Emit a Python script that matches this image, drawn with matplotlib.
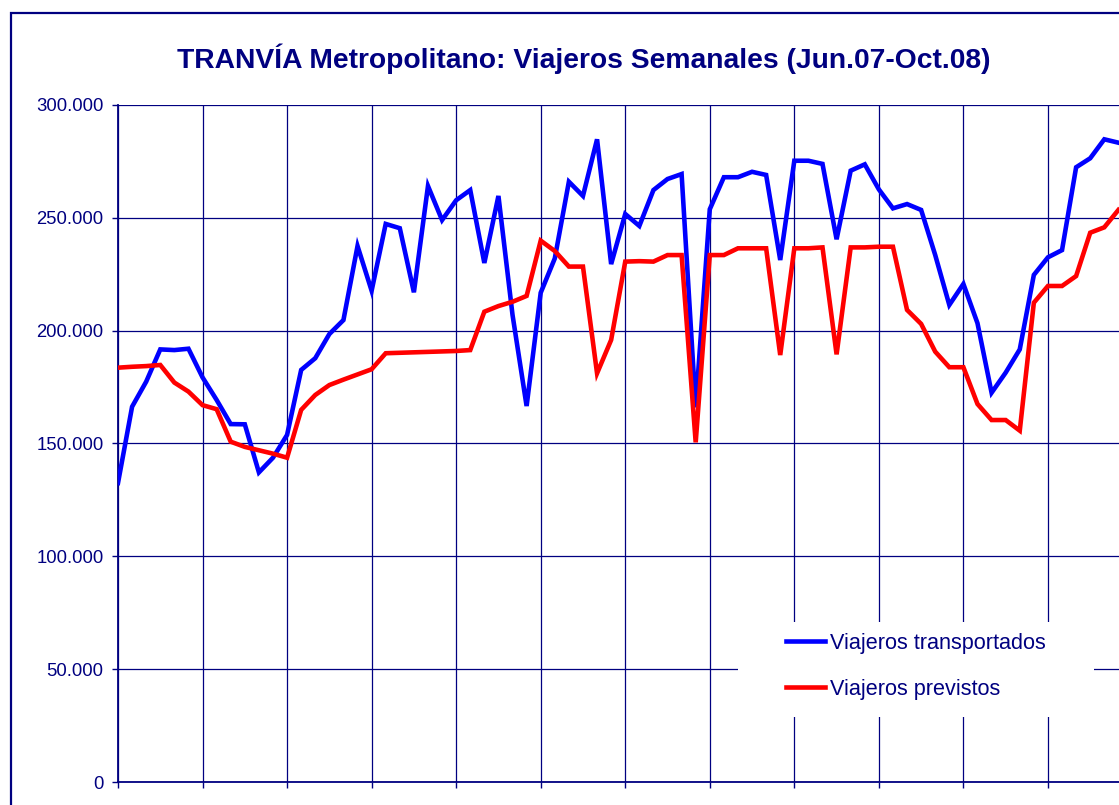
import numpy as np
import matplotlib
matplotlib.use("Agg")
import matplotlib.pyplot as plt
from matplotlib.patches import Rectangle

# weekly passengers, Jun.07 onwards (thousands)
semanas = np.arange(72)
transportados = [
    132.5, 166.3, 177.4, 191.7, 191.4, 192.0, 179.3, 169.3, 158.6, 158.5,
    137.2, 143.7, 153.8, 182.6, 187.8, 198.5, 204.7, 237.5, 217.7, 247.3,
    245.4, 217.0, 264.1, 249.0, 257.8, 262.3, 230.0, 259.7, 207.0, 166.6,
    216.8, 232.0, 266.0, 259.7, 284.8, 229.5, 251.7, 246.4, 262.3, 267.2,
    269.4, 166.0, 253.8, 268.0, 268.0, 270.4, 269.0, 231.3, 275.3, 275.3,
    273.9, 240.5, 270.9, 273.7, 262.6, 254.2, 256.1, 253.5, 233.5, 211.4,
    220.7, 203.3, 172.5, 181.4, 191.7, 224.7, 232.5, 235.7, 272.4, 276.4,
    284.8, 283.3,
]
previstos = [
    183.6, 184.0, 184.3, 184.8, 177.0, 173.0, 167.0, 165.2, 150.8, 148.5,
    147.0, 145.5, 143.7, 164.9, 171.5, 175.9, 178.3, 180.6, 182.9, 190.0,
    190.2, 190.4, 190.6, 190.8, 191.0, 191.4, 208.4, 210.9, 212.8, 215.4,
    239.9, 235.3, 228.4, 228.4, 181.1, 195.9, 230.6, 230.8, 230.6, 233.5,
    233.5, 150.5, 233.5, 233.5, 236.5, 236.5, 236.5, 189.2, 236.5, 236.5,
    236.9, 189.5, 236.9, 236.9, 237.2, 237.2, 209.2, 203.0, 190.7, 183.8,
    183.8, 167.5, 160.4, 160.4, 155.7, 212.4, 219.8, 219.8, 224.2, 243.4,
    245.8, 253.5,
]
titulo = "TRANVÍA Metropolitano: Viajeros Semanales (Jun.07-Oct.08)"
etiquetas = ["Viajeros transportados", "Viajeros previstos"]

NAVY = "#000080"
plt.rcParams["font.family"] = ["Liberation Sans", "DejaVu Sans"]

W, H = 1119, 805
fig = plt.figure(figsize=(W / 100, H / 100), dpi=100)

# outer chart frame (runs off the right and bottom edges)
fig.add_artist(Rectangle((11 / W, -0.2), 1.5, 1.2 - 13 / H, transform=fig.transFigure,
                         fill=False, ec=NAVY, lw=1.6))

paso = 14.09
ax = fig.add_axes([118 / W, 23 / H, 72 * paso / W, 677 / H])
ax.set_xlim(0, 72)
ax.set_ylim(0, 300000)

y_t = np.array(transportados) * 1000
y_p = np.array(previstos) * 1000
ax.plot(semanas, y_t, color="#0000FF", lw=3.3, solid_joinstyle="miter", zorder=3,
        label=etiquetas[0])
ax.plot(semanas, y_p, color="#FF0000", lw=3.3, solid_joinstyle="miter", zorder=3,
        label=etiquetas[1])

ax.set_yticks(np.arange(0, 300001, 50000))
ax.set_yticklabels([f"{v:,.0f}".replace(",", ".") for v in range(0, 300001, 50000)])
ax.set_xticks(np.arange(0, 73, 6))
ax.set_xticklabels([])
ax.tick_params(axis="y", colors=NAVY, labelcolor=NAVY, labelsize=13.3, length=4,
               width=1, pad=6.5, direction="out")
ax.tick_params(axis="x", colors=NAVY, length=4.5, width=1, direction="out")
ax.set_axisbelow(True)
ax.grid(True, color=NAVY, lw=0.9)

for s in ["top", "right"]:
    ax.spines[s].set_visible(False)
for s in ["left", "bottom"]:
    ax.spines[s].set_color(NAVY)
    ax.spines[s].set_linewidth(1.3)

# white patch behind the legend hides the grid there
ax.add_patch(Rectangle((738 / W, 1 - 717 / H), (1094 - 738) / W, 95 / H,
                       transform=fig.transFigure, fc="white", ec="none", zorder=1))

leg = ax.legend(loc="upper left", bbox_to_anchor=(786 / W, 1 - 633 / H),
                bbox_transform=fig.transFigure, frameon=False, fontsize=15.6,
                handlelength=1.8, handletextpad=0.22, labelspacing=1.15,
                borderpad=0, borderaxespad=0)
for t in leg.get_texts():
    t.set_color(NAVY)
leg.set_zorder(5)

fig.text(584 / W, 1 - 68 / H, titulo, ha="center", va="baseline",
         fontsize=20.3, fontweight="bold", color=NAVY)

fig.savefig("out.png", dpi=100)
